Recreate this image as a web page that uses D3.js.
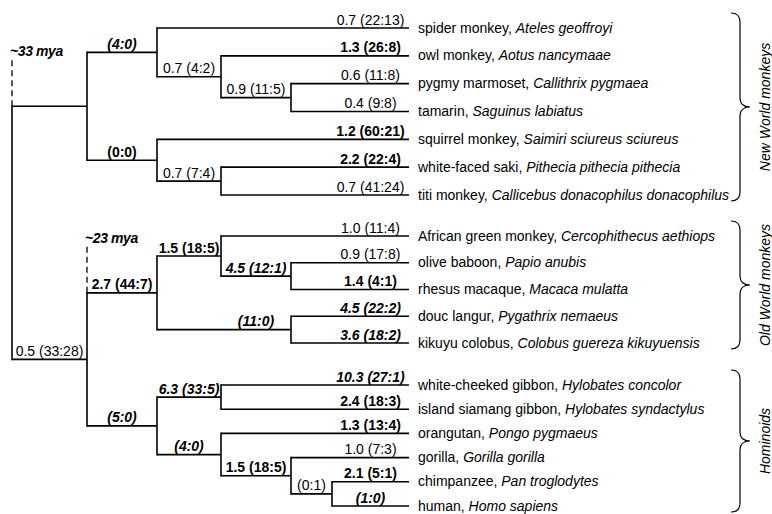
<!DOCTYPE html>
<html>
<head>
<meta charset="utf-8">
<script src="https://cdn.jsdelivr.net/npm/d3@7"></script>
<style>
  html, body { margin: 0; padding: 0; background: #fff; }
  svg { display: block; font-family: "Liberation Sans", Arial, sans-serif; }
  .branch { stroke: #000; stroke-width: 1.6; fill: none; }
  .dashed { stroke: #000; stroke-width: 1.3; stroke-dasharray: 6 4; }
  .brace { stroke: #000; stroke-width: 1.2; fill: none; }
</style>
</head>
<body>
<svg id="tree" width="772" height="514"></svg>
<script>
// Internal clades (stratify table)
const cladeIds     = ["root", "NW", "Atel", "Aotus", "Callit", "Pith0", "Pith", "Cat", "OW", "Cerc", "Papio", "Colob", "Hom", "Hylo", "Great", "African", "HC"];
const cladeParents = [null, "root", "NW", "Atel", "Aotus", "NW", "Pith0", "root", "Cat", "OW", "Cerc", "OW", "Cat", "Hom", "Hom", "Great", "African"];
const cladeLevels  = [0, 1, 2, 3, 4, 2, 3, 1, 2, 3, 4, 4, 2, 3, 3, 4, 5];
const cladeLabels  = ["", "", "(4:0)", "0.7 (4:2)", "0.9 (11:5)", "(0:0)", "0.7 (7:4)", "0.5 (33:28)", "2.7 (44:7)", "1.5 (18:5)", "4.5 (12:1)", "(11:0)", "(5:0)", "6.3 (33:5)", "(4:0)", "1.5 (18:5)", "(0:1)"];
// 0 = plain, 1 = bold, 2 = bold italic
const cladeSig     = [0, 0, 2, 0, 0, 1, 0, 0, 1, 1, 2, 2, 2, 2, 2, 1, 0];

// Species (tips), top to bottom
const commonNames = ["spider monkey", "owl monkey", "pygmy marmoset", "tamarin", "squirrel monkey", "white-faced saki", "titi monkey",
  "African green monkey", "olive baboon", "rhesus macaque", "douc langur", "kikuyu colobus",
  "white-cheeked gibbon", "island siamang gibbon", "orangutan", "gorilla", "chimpanzee", "human"];
const latinNames = ["Ateles geoffroyi", "Aotus nancymaae", "Callithrix pygmaea", "Saguinus labiatus", "Saimiri sciureus sciureus", "Pithecia pithecia pithecia", "Callicebus donacophilus donacophilus",
  "Cercophithecus aethiops", "Papio anubis", "Macaca mulatta", "Pygathrix nemaeus", "Colobus guereza kikuyuensis",
  "Hylobates concolor", "Hylobates syndactylus", "Pongo pygmaeus", "Gorilla gorilla", "Pan troglodytes", "Homo sapiens"];
const leafParents = ["Atel", "Aotus", "Callit", "Callit", "Pith0", "Pith", "Pith",
  "Cerc", "Papio", "Papio", "Colob", "Colob",
  "Hylo", "Hylo", "Great", "African", "HC", "HC"];
const leafLabels = ["0.7 (22:13)", "1.3 (26:8)", "0.6 (11:8)", "0.4 (9:8)", "1.2 (60:21)", "2.2 (22:4)", "0.7 (41:24)",
  "1.0 (11:4)", "0.9 (17:8)", "1.4 (4:1)", "4.5 (22:2)", "3.6 (18:2)",
  "10.3 (27:1)", "2.4 (18:3)", "1.3 (13:4)", "1.0 (7:3)", "2.1 (5:1)", "(1:0)"];
const leafSig = [0, 1, 0, 0, 1, 1, 0, 0, 0, 1, 2, 2, 2, 1, 1, 0, 1, 2];

// Clade groups (first and last tip index)
const groupNames = ["New World monkeys", "Old World monkeys", "Hominoids"];
const groupFirst = [0, 7, 12];
const groupLast  = [6, 11, 17];

// Divergence-time annotations
const dateNodes  = ["root", "Cat"];
const dateLabels = ["~33 mya", "~23 mya"];

const TIP_LEVEL = 6;

function fontWeight(s) { return s > 0 ? "bold" : "normal"; }
function fontStyle(s) { return s === 2 ? "italic" : "normal"; }

function init() {
  const svg = d3.select("#tree");

  // Build table for stratify
  const table = cladeIds.map((id, i) => ({
    id, parent: cladeParents[i], level: cladeLevels[i], label: cladeLabels[i], sig: cladeSig[i], tip: -1
  })).concat(commonNames.map((c, i) => ({
    id: "tip" + i, parent: leafParents[i], level: TIP_LEVEL, label: leafLabels[i], sig: leafSig[i], tip: i
  })));

  const root = d3.stratify().id(d => d.id).parentId(d => d.parent)(table);
  // keep children in the order tips appear
  root.eachAfter(n => {
    if (n.children) n.order = d3.min(n.children, c => c.order);
    else n.order = n.data.tip;
  });
  root.sort((a, b) => a.order - b.order);

  const xScale = d3.scaleLinear()
    .domain([0, 1, 2, 3, 4, 5, 6])
    .range([12, 87, 157, 221, 291, 332, 409]);

  const yScale = d3.scaleLinear()
    .domain([0, 6, 7, 11, 12, 17])
    .range([28, 195, 236, 343, 385, 506]);

  root.eachAfter(n => {
    n.px = xScale(n.data.level);
    if (n.children) {
      n.py = (n.children[0].py + n.children[n.children.length - 1].py) / 2;
    } else {
      n.py = yScale(n.data.tip);
    }
  });

  const g = svg.append("g");

  // horizontal branches
  root.descendants().filter(n => n.parent).forEach(n => {
    g.append("line").attr("class", "branch")
      .attr("x1", n.parent.px).attr("x2", n.px)
      .attr("y1", n.py).attr("y2", n.py);
  });

  // vertical connectors
  root.descendants().filter(n => n.children).forEach(n => {
    g.append("line").attr("class", "branch")
      .attr("x1", n.px).attr("x2", n.px)
      .attr("y1", n.children[0].py - 0.8)
      .attr("y2", n.children[n.children.length - 1].py + 0.8);
  });

  // branch labels, centred on the last segment of each branch
  root.descendants().filter(n => n.parent && n.data.label).forEach(n => {
    const cx = (xScale(n.data.level - 1) + n.px) / 2;
    g.append("text")
      .attr("x", cx).attr("y", n.py - 3.5)
      .attr("text-anchor", "middle")
      .attr("font-size", 14)
      .attr("font-weight", fontWeight(n.data.sig))
      .attr("font-style", fontStyle(n.data.sig))
      .text(n.data.label);
  });

  // species names
  root.leaves().forEach(n => {
    const i = n.data.tip;
    const t = g.append("text")
      .attr("x", n.px + 9).attr("y", n.py + 4.5)
      .attr("font-size", 14);
    t.append("tspan").text(commonNames[i] + ", ");
    t.append("tspan").attr("font-style", "italic").text(latinNames[i]);
  });

  // dashed divergence markers
  dateNodes.forEach((id, i) => {
    const n = root.find(d => d.id === id);
    const top = n.children[0].py;
    g.append("line").attr("class", "dashed")
      .attr("x1", n.px).attr("x2", n.px)
      .attr("y1", top).attr("y2", top - 46);
    g.append("text")
      .attr("x", n.px - 2).attr("y", top - 50)
      .attr("font-size", 14)
      .attr("font-weight", "bold")
      .attr("font-style", "italic")
      .attr("letter-spacing", -0.4)
      .text(dateLabels[i]);
  });

  // group braces
  groupNames.forEach((name, i) => {
    const y0 = yScale(groupFirst[i]) - 15;
    const y1 = yScale(groupLast[i]) + 6;
    const ym = (y0 + y1) / 2;
    const x0 = 731, x1 = 740, x2 = 750, r = 9;
    const p = d3.path();
    p.moveTo(x0, y0);
    p.quadraticCurveTo(x1, y0, x1, y0 + r);
    p.lineTo(x1, ym - r);
    p.quadraticCurveTo(x1, ym, x2, ym);
    p.quadraticCurveTo(x1, ym, x1, ym + r);
    p.lineTo(x1, y1 - r);
    p.quadraticCurveTo(x1, y1, x0, y1);
    g.append("path").attr("class", "brace").attr("d", p.toString());

    g.append("text")
      .attr("transform", `translate(770,${ym}) rotate(-90)`)
      .attr("text-anchor", "middle")
      .attr("font-size", 14)
      .attr("font-style", "italic")
      .text(name);
  });
}

document.addEventListener("DOMContentLoaded", init);
</script>
</body>
</html>
